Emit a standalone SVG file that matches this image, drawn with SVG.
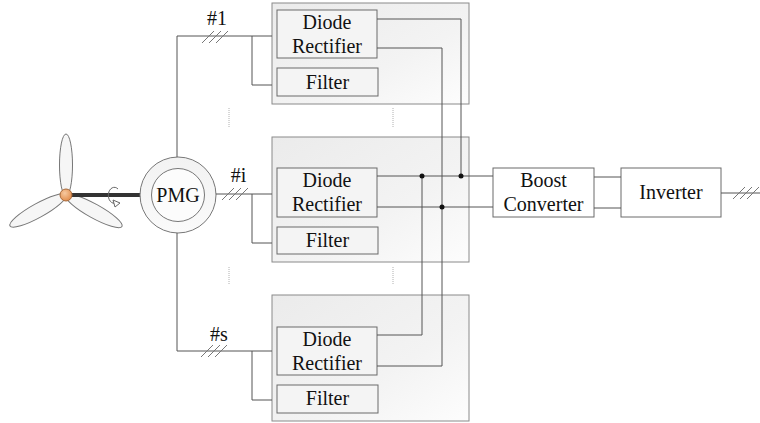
<svg xmlns="http://www.w3.org/2000/svg" width="760" height="423" viewBox="0 0 760 423" font-family="'Liberation Serif', 'Times New Roman', serif">
  <defs>
    <linearGradient id="panel" x1="0" y1="0" x2="1" y2="1">
      <stop offset="0" stop-color="#ebebeb"/>
      <stop offset="0.6" stop-color="#f3f3f3"/>
      <stop offset="1" stop-color="#fdfdfd"/>
    </linearGradient>
    <radialGradient id="hub" cx="0.4" cy="0.35" r="0.7">
      <stop offset="0" stop-color="#f6c9a0"/>
      <stop offset="1" stop-color="#e08a48"/>
    </radialGradient>
    <linearGradient id="ring" x1="0" y1="0" x2="0" y2="1">
      <stop offset="0" stop-color="#f2f2f2"/>
      <stop offset="1" stop-color="#fafafa"/>
    </linearGradient>
  </defs>
  <style>
    text { font-family: "Liberation Serif", "Times New Roman", serif; }
    .panel { fill: url(#panel); stroke: #8a8a8a; stroke-width: 1; }
    .box { fill: #f4f4f4; stroke: #6a6a6a; stroke-width: 1; }
    .wbox { fill: #ffffff; stroke: #6a6a6a; stroke-width: 1; }
    .wire { fill: none; stroke: #555; stroke-width: 1; }
    .hash { fill: none; stroke: #777; stroke-width: 1; }
    .dots { fill: none; stroke: #b0b0b0; stroke-width: 1; stroke-dasharray: 1 1; }
    .lbl { font-size: 20px; fill: #111; text-anchor: middle; }
    .blade { fill: #f6f6f6; stroke: #777; stroke-width: 1; }
  </style>

  <!-- wind turbine rotor -->
  <g id="turbine">
    <ellipse class="blade" cx="66" cy="165" rx="6.5" ry="31"/>
    <ellipse class="blade" cx="38" cy="210.5" rx="32" ry="7" transform="rotate(-29 38 210.5)"/>
    <ellipse class="blade" cx="94" cy="211" rx="32" ry="7" transform="rotate(29 94 211)"/>
    <line x1="66" y1="195" x2="152" y2="195" stroke="#333" stroke-width="4"/>
    <path d="M118,189 A6,8 0 1 0 116,203" fill="none" stroke="#666" stroke-width="1"/>
    <path d="M113,200 L120,203 L115,207 Z" fill="#fff" stroke="#666" stroke-width="1"/>
    <circle cx="66" cy="195" r="6" fill="url(#hub)" stroke="#a86a3a" stroke-width="1"/>
  </g>

  <!-- generator -->
  <g id="pmg">
    <circle cx="178" cy="195" r="38" fill="url(#ring)" stroke="#777" stroke-width="1"/>
    <circle cx="178" cy="195" r="26.5" fill="#fcfcfc" stroke="#777" stroke-width="1"/>
    <text class="lbl" x="178" y="202">PMG</text>
  </g>

  <!-- stage #1 -->
  <g id="stage-1">
    <rect class="panel" x="272" y="3" width="197" height="101"/>
    <rect class="box" x="277" y="10" width="100" height="48"/>
    <text class="lbl" x="327" y="29">Diode</text>
    <text class="lbl" x="327" y="53">Rectifier</text>
    <rect class="box" x="277" y="68" width="101" height="28"/>
    <text class="lbl" x="327.5" y="88.5">Filter</text>
  </g>

  <!-- stage #i -->
  <g id="stage-i">
    <rect class="panel" x="272" y="137" width="197" height="125"/>
    <rect class="box" x="277" y="168" width="100" height="49"/>
    <text class="lbl" x="327" y="187">Diode</text>
    <text class="lbl" x="327" y="211">Rectifier</text>
    <rect class="box" x="277" y="227" width="101" height="27"/>
    <text class="lbl" x="327.5" y="247">Filter</text>
  </g>

  <!-- stage #s -->
  <g id="stage-s">
    <rect class="panel" x="272" y="295" width="197" height="126"/>
    <rect class="box" x="277" y="327" width="100" height="48"/>
    <text class="lbl" x="327" y="346">Diode</text>
    <text class="lbl" x="327" y="370">Rectifier</text>
    <rect class="box" x="277" y="385" width="101" height="28"/>
    <text class="lbl" x="327.5" y="405">Filter</text>
  </g>

  <!-- DC/DC and DC/AC -->
  <g id="boost">
    <rect class="wbox" x="493" y="168" width="101" height="49"/>
    <text class="lbl" x="543.5" y="187">Boost</text>
    <text class="lbl" x="543.5" y="211">Converter</text>
  </g>
  <g id="inverter">
    <rect class="wbox" x="621" y="168" width="100" height="49"/>
    <text class="lbl" x="671" y="199">Inverter</text>
  </g>

  <!-- connectors -->
  <g id="connectors">
    <!-- AC feeders from the generator -->
    <path class="wire" d="M177,157 V36 H272 M252,36 V85 H272"/>
    <path class="wire" d="M216,194 H272 M252,194 V243 H272"/>
    <path class="wire" d="M177,233 V351 H272 M252,351 V400 H272"/>
    <!-- DC bus -->
    <path class="wire" d="M377,19 H461 V176"/>
    <path class="wire" d="M377,48 H442 V366 H377"/>
    <path class="wire" d="M377,176 H493"/>
    <path class="wire" d="M377,207 H493"/>
    <path class="wire" d="M422,176 V335 H377"/>
    <circle cx="422" cy="176" r="2.5" fill="#111"/>
    <circle cx="461" cy="176" r="2.5" fill="#111"/>
    <circle cx="442" cy="207" r="2.5" fill="#111"/>
    <!-- converter to inverter -->
    <path class="wire" d="M594,177 H621 M594,208 H621"/>
    <path class="wire" d="M721,193 H760"/>
    <!-- three-phase marks -->
    <path class="hash" d="M202,43 L214,31 M209,43 L221,31 M216,43 L228,31"/>
    <path class="hash" d="M222,200 L234,188 M229,200 L241,188 M236,200 L248,188"/>
    <path class="hash" d="M201,357 L213,345 M208,357 L220,345 M215,357 L227,345"/>
    <path class="hash" d="M733,199 L745,187 M740,199 L752,187 M747,199 L759,187"/>
    <!-- continuation marks -->
    <path class="dots" d="M229,108 V127 M393,108 V127 M229,267 V285 M393,267 V285"/>
  </g>

  <g id="labels">
    <text class="lbl" x="217" y="25">#1</text>
    <text class="lbl" x="238.5" y="182">#i</text>
    <text class="lbl" x="219" y="341">#s</text>
  </g>
</svg>
